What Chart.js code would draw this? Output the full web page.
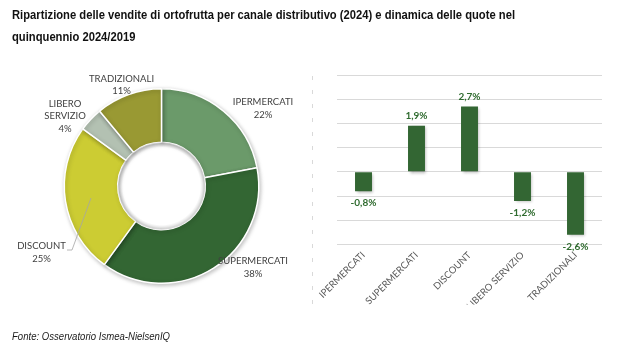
<!DOCTYPE html>
<html><head><meta charset="utf-8">
<script src="https://cdn.jsdelivr.net/npm/chart.js@4.4.0/dist/chart.umd.min.js"></script>
<style>
html,body{margin:0;padding:0;background:#fff;}
#wrap{position:relative;width:626px;height:357px;overflow:hidden;}
canvas{position:absolute;left:0;top:0;}
</style></head><body>
<div id="wrap"><canvas id="pie" width="626" height="357"></canvas><canvas id="bar" width="626" height="357"></canvas></div>
<script>
// ---- data ----
const titleLines = ["Ripartizione delle vendite di ortofrutta per canale distributivo (2024) e dinamica delle quote nel", "quinquennio 2024/2019"];
const sourceNote = "Fonte: Osservatorio Ismea-NielsenIQ";
const channels = ["IPERMERCATI", "SUPERMERCATI", "DISCOUNT", "LIBERO SERVIZIO", "TRADIZIONALI"];
const shares2024 = [22, 38, 25, 4, 11];
const shareChange = [-0.8, 1.9, 2.7, -1.2, -2.6];
const changeAxisMin = -3;
const changeAxisMax = 4;
const changeAxisStep = 1;

// ---- styles ----
const sliceColors = ["#6b9a6a", "#336633", "#cccc33", "#b3c1b2", "#999933"];
const barColor = "#336633";
const labelColor = "#404040";
const valueColor = "#2f6b2f";
// label placement relative to donut centre (px)
const pieLabelOffsets = [[101.5, -77.5], [91.5, 81.5], [-120, 66.5], [-96.5, -70], [-40, -101]];
const leaderLines = {2: [[-94.5, 64], [-89.5, 64], [-70.5, 12]]};

Chart.defaults.animation = false;
Chart.defaults.responsive = false;
Chart.defaults.plugins.legend.display = false;
Chart.defaults.plugins.tooltip.enabled = false;

const fmt = v => (v.toFixed(1)).replace('.', ',') + '%';

const pageDecor = {
  id: 'pageDecor',
  afterDraw(chart) {
    const ctx = chart.ctx;
    ctx.save();
    // title
    ctx.fillStyle = '#111';
    ctx.font = "bold 12.5px 'Liberation Sans', Arial, sans-serif";
    ctx.textBaseline = 'alphabetic';
    ctx.textAlign = 'left';
    const k = 503 / ctx.measureText(titleLines[0]).width;
    [18.5, 40.5].forEach((y, i) => {
      ctx.save(); ctx.translate(12, y); ctx.scale(k, 1);
      ctx.fillText(titleLines[i], 0, 0); ctx.restore();
    });
    // footer
    ctx.font = "italic 11px 'Liberation Sans', Arial, sans-serif";
    ctx.fillStyle = '#1a1a1a';
    const k2 = 158 / ctx.measureText(sourceNote).width;
    ctx.save(); ctx.translate(12, 339.5); ctx.scale(k2, 1);
    ctx.fillText(sourceNote, 0, 0); ctx.restore();
    // dashed separator
    ctx.strokeStyle = '#d9d9d9';
    ctx.lineWidth = 1;
    ctx.setLineDash([4, 10]);
    ctx.beginPath(); ctx.moveTo(312.5, 76); ctx.lineTo(312.5, 312); ctx.stroke();
    ctx.restore();
  }
};

const pieLabels = {
  id: 'pieLabels',
  beforeDatasetsDraw(chart) {
    const ctx = chart.ctx;
    ctx.save();
    ctx.shadowColor = 'rgba(0,0,0,0.25)';
    ctx.shadowBlur = 4;
    ctx.shadowOffsetX = 1;
    ctx.shadowOffsetY = 1.5;
  },
  afterDatasetsDraw(chart) {
    const ctx = chart.ctx;
    ctx.restore();
    const meta = chart.getDatasetMeta(0);
    const a0 = meta.data[0];
    const cx = a0.x, cy = a0.y, ir = a0.innerRadius;
    // hole bevel
    ctx.save();
    const g = ctx.createRadialGradient(cx, cy, ir - 5, cx, cy, ir);
    g.addColorStop(0, 'rgba(0,0,0,0)');
    g.addColorStop(1, 'rgba(0,0,0,0.16)');
    ctx.fillStyle = g;
    ctx.beginPath(); ctx.arc(cx, cy, ir, 0, Math.PI * 2); ctx.fill();
    ctx.restore();
    ctx.save();
    ctx.font = "9.5px Lato, 'Liberation Sans', sans-serif";
    ctx.fillStyle = labelColor;
    ctx.textAlign = 'center';
    ctx.textBaseline = 'middle';
    const ds = chart.data.datasets[0];
    chart.data.labels.forEach((lab, i) => {
      const lines = lab.split(' ').concat([ds.data[i] + '%']);
      const [dx, dy] = pieLabelOffsets[i];
      const lh = 12.5;
      const y0 = cy + dy - (lines.length - 1) * lh / 2;
      lines.forEach((t, j) => ctx.fillText(t, cx + dx, y0 + j * lh));
      if (leaderLines[i]) {
        ctx.strokeStyle = '#a6a6a6'; ctx.lineWidth = 0.8;
        ctx.beginPath();
        leaderLines[i].forEach(([px, py], j) => j ? ctx.lineTo(cx + px, cy + py) : ctx.moveTo(cx + px, cy + py));
        ctx.stroke();
      }
    });
    ctx.restore();
  }
};

new Chart(document.getElementById('pie'), {
  type: 'doughnut',
  data: {
    labels: channels,
    datasets: [{data: shares2024, backgroundColor: sliceColors, borderColor: '#ffffff', borderWidth: 1.5}]
  },
  options: {
    cutout: '45%',
    layout: {padding: {left: 63.5, right: 366.5, top: 88, bottom: 73}},
  },
  plugins: [pieLabels, pageDecor]
});

const barLabels = {
  id: 'barLabels',
  beforeDatasetsDraw(chart) {
    const ctx = chart.ctx;
    ctx.save();
    ctx.shadowColor = 'rgba(0,0,0,0.3)';
    ctx.shadowBlur = 3;
    ctx.shadowOffsetX = 1.5;
    ctx.shadowOffsetY = 1.5;
  },
  afterDatasetsDraw(chart) {
    const ctx = chart.ctx;
    ctx.restore();
    ctx.save();
    ctx.font = "bold 10px Lato, 'Liberation Sans', sans-serif";
    ctx.fillStyle = valueColor;
    ctx.textAlign = 'center';
    ctx.textBaseline = 'middle';
    const meta = chart.getDatasetMeta(0);
    meta.data.forEach((bar, i) => {
      const v = chart.data.datasets[0].data[i];
      const y = v >= 0 ? bar.y - 10 : bar.y + 12;
      ctx.fillText(fmt(v), bar.x, y);
    });
    ctx.restore();
  }
};

new Chart(document.getElementById('bar'), {
  type: 'bar',
  data: {
    labels: channels,
    datasets: [{data: shareChange, backgroundColor: barColor, barPercentage: 0.4, categoryPercentage: 0.8}]
  },
  options: {
    layout: {padding: {left: 313, right: 24, top: 75, bottom: 52.5}},
    scales: {
      x: {
        grid: {display: false, drawTicks: false},
        border: {display: false},
        ticks: {maxRotation: 45, minRotation: 45, color: '#595959', padding: 5,
                font: {family: "Lato, 'Liberation Sans', sans-serif", size: 9.5}},
        afterFit: s => { s.height = 60; }
      },
      y: {
        min: changeAxisMin, max: changeAxisMax,
        ticks: {display: false, stepSize: changeAxisStep},
        grid: {color: '#d9d9d9', drawTicks: false, lineWidth: 1},
        border: {display: false},
        afterFit: s => { s.width = 24; }
      }
    }
  },
  plugins: [barLabels]
});
</script>
</body></html>
